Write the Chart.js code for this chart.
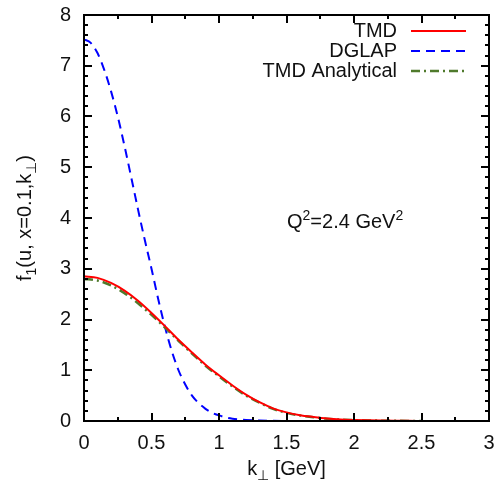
<!DOCTYPE html>
<html><head><meta charset="utf-8">
<script src="https://cdn.jsdelivr.net/npm/chart.js@4/dist/chart.umd.min.js"></script>
<style>html,body{margin:0;padding:0;background:#fff}#wrap{width:499px;height:486px}</style>
</head><body><div id="wrap"><canvas id="c" width="499" height="486"></canvas></div>
<script>
// ---- data ----
const tmdK = [0,0.1,0.2,0.3,0.4,0.5,0.6,0.7,0.8,0.9,1.0,1.1,1.2,1.3,1.4,1.5,1.6,1.7,1.8,1.9,2.0,2.1,2.2,2.3,2.4,2.5];
const tmdF1 = [2.85,2.82,2.72,2.57,2.37,2.13,1.87,1.60,1.35,1.11,0.90,0.70,0.52,0.37,0.25,0.17,0.115,0.08,0.05,0.03,0.02,0.013,0.008,0.005,0.003,0.002];
const analyticalK = [0,0.1,0.2,0.3,0.4,0.5,0.6,0.7,0.8,0.9,1.0,1.1,1.2,1.3,1.4,1.5,1.6,1.7,1.8,1.9,2.0,2.1,2.2,2.3,2.4,2.5];
const analyticalF1 = [2.80,2.77,2.67,2.52,2.32,2.09,1.84,1.58,1.33,1.09,0.88,0.68,0.50,0.36,0.24,0.16,0.11,0.075,0.045,0.028,0.018,0.011,0.007,0.004,0.002,0.001];
const dglapK = [0,0.05,0.1,0.15,0.2,0.25,0.3,0.35,0.4,0.45,0.5,0.55,0.6,0.65,0.7,0.75,0.8,0.85,0.9,0.95,1.0,1.05,1.1,1.15,1.2,1.3,1.4,1.5];
const dglapF1 = [7.52,7.45,7.25,6.92,6.50,6.00,5.42,4.80,4.17,3.57,3.00,2.40,1.85,1.38,1.00,0.72,0.50,0.35,0.24,0.16,0.11,0.07,0.045,0.03,0.02,0.008,0.003,0.001];
const xTicks = [0,0.5,1,1.5,2,2.5,3];
const yTicks = [0,1,2,3,4,5,6,7,8];
const seriesNames = ['TMD','DGLAP','TMD Analytical'];

const FONT = '"Liberation Sans", Arial, sans-serif';
const FS = 20;
const TXT = '#111';
const colors = ['#ff0000','#0000ff','#4f7a2c'];
const widths = [2,2,2.5];
const dashes = [[],[9,6],[9,4,2,4]];

function pts(xs, ys){ return xs.map((x,i)=>({x:x,y:ys[i]})); }

function drawRich(ctx, parts, x, y, align){
  const sizes = parts.map(p => p.m==='n' ? FS : Math.round(FS*0.7));
  let w = 0;
  parts.forEach((p,i)=>{ ctx.font = sizes[i]+'px '+FONT; w += ctx.measureText(p.t).width; });
  let cx = align==='center' ? x - w/2 : (align==='right' ? x - w : x);
  parts.forEach((p,i)=>{
    ctx.font = sizes[i]+'px '+FONT;
    let dy = p.m==='sub' ? 5 : (p.m==='sup' ? -8 : 0);
    ctx.fillText(p.t, cx, y+dy);
    cx += ctx.measureText(p.t).width;
  });
}

const framePlugin = {
  id:'frame',
  afterDatasetsDraw(chart){
    const ctx = chart.ctx, a = chart.chartArea;
    const xs = chart.scales.x, ys = chart.scales.y;
    ctx.save();
    ctx.strokeStyle = '#000'; ctx.lineWidth = 2; ctx.setLineDash([]);
    ctx.strokeRect(a.left, a.top, a.right-a.left, a.bottom-a.top);
    ctx.beginPath();
    for(let v=0; v<=3.0001; v+=0.25){
      const px = Math.round(xs.getPixelForValue(v));
      const L = (Math.abs(v*2-Math.round(v*2))<1e-6) ? 8 : 4;
      ctx.moveTo(px, a.bottom); ctx.lineTo(px, a.bottom-L);
      ctx.moveTo(px, a.top); ctx.lineTo(px, a.top+L);
    }
    for(let v=0; v<=8.0001; v+=0.2){
      const py = Math.round(ys.getPixelForValue(v));
      const L = (Math.abs(v-Math.round(v))<1e-6) ? 8 : 4;
      ctx.moveTo(a.left, py); ctx.lineTo(a.left+L, py);
      ctx.moveTo(a.right, py); ctx.lineTo(a.right-L, py);
    }
    ctx.stroke();

    // legend
    ctx.fillStyle = TXT; ctx.textBaseline = 'alphabetic'; ctx.textAlign = 'right';
    ctx.font = FS+'px '+FONT;
    const rowY = [31,51,71];
    seriesNames.forEach((n,i)=>{
      ctx.fillText(n, 397, rowY[i]+6);
      ctx.beginPath(); ctx.strokeStyle = colors[i]; ctx.lineWidth = widths[i];
      ctx.setLineDash(dashes[i]);
      ctx.moveTo(411, rowY[i]); ctx.lineTo(466, rowY[i]); ctx.stroke();
    });
    ctx.setLineDash([]);

    // annotation and titles
    ctx.textAlign = 'left'; ctx.textBaseline = 'alphabetic';
    drawRich(ctx, [{t:'Q',m:'n'},{t:'2',m:'sup'},{t:'=2.4 GeV',m:'n'},{t:'2',m:'sup'}], 287, 228, 'left');
    drawRich(ctx, [{t:'k',m:'n'},{t:'\u22A5',m:'sub'},{t:' [GeV]',m:'n'}], (a.left+a.right)/2, 475, 'center');
    ctx.translate(31, (a.top+a.bottom)/2);
    ctx.rotate(-Math.PI/2);
    drawRich(ctx, [{t:'f',m:'n'},{t:'1',m:'sub'},{t:'(u, x=0.1,k',m:'n'},{t:'\u22A5',m:'sub'},{t:')',m:'n'}], 0, 0, 'center');
    ctx.restore();
  }
};

new Chart(document.getElementById('c'), {
  type:'line',
  data:{ datasets:[
    {label:seriesNames[0], data:pts(tmdK,tmdF1), borderColor:colors[0], borderWidth:widths[0], pointRadius:0, cubicInterpolationMode:'monotone', order:1},
    {label:seriesNames[1], data:pts(dglapK,dglapF1), borderColor:colors[1], borderWidth:widths[1], borderDash:dashes[1], pointRadius:0, cubicInterpolationMode:'monotone', order:3},
    {label:seriesNames[2], data:pts(analyticalK,analyticalF1), borderColor:colors[2], borderWidth:widths[2], borderDash:dashes[2], pointRadius:0, cubicInterpolationMode:'monotone', order:2}
  ]},
  options:{
    responsive:false, animation:false, devicePixelRatio:1,
    layout:{padding:{left:0,right:10,top:15,bottom:0}},
    plugins:{legend:{display:false}, tooltip:{enabled:false}},
    scales:{
      x:{type:'linear', min:0, max:3,
        afterFit(s){ s.height = 65; s.paddingLeft = 0; s.paddingRight = 0; },
        afterBuildTicks(s){ s.ticks = xTicks.map(v=>({value:v})); },
        grid:{display:false, drawTicks:false}, border:{display:false},
        ticks:{padding:17, autoSkip:false, maxRotation:0, color:TXT, font:{family:FONT,size:FS,lineHeight:0.5}, callback:v=>String(v)}},
      y:{type:'linear', min:0, max:8,
        afterFit(s){ s.width = 84; s.paddingTop = 0; s.paddingBottom = 0; },
        afterBuildTicks(s){ s.ticks = yTicks.map(v=>({value:v})); },
        grid:{display:false, drawTicks:false}, border:{display:false},
        ticks:{padding:13, color:TXT, font:{family:FONT,size:FS,lineHeight:0.5}, callback:v=>String(v)}}
    }
  },
  plugins:[framePlugin]
});
</script></body></html>
